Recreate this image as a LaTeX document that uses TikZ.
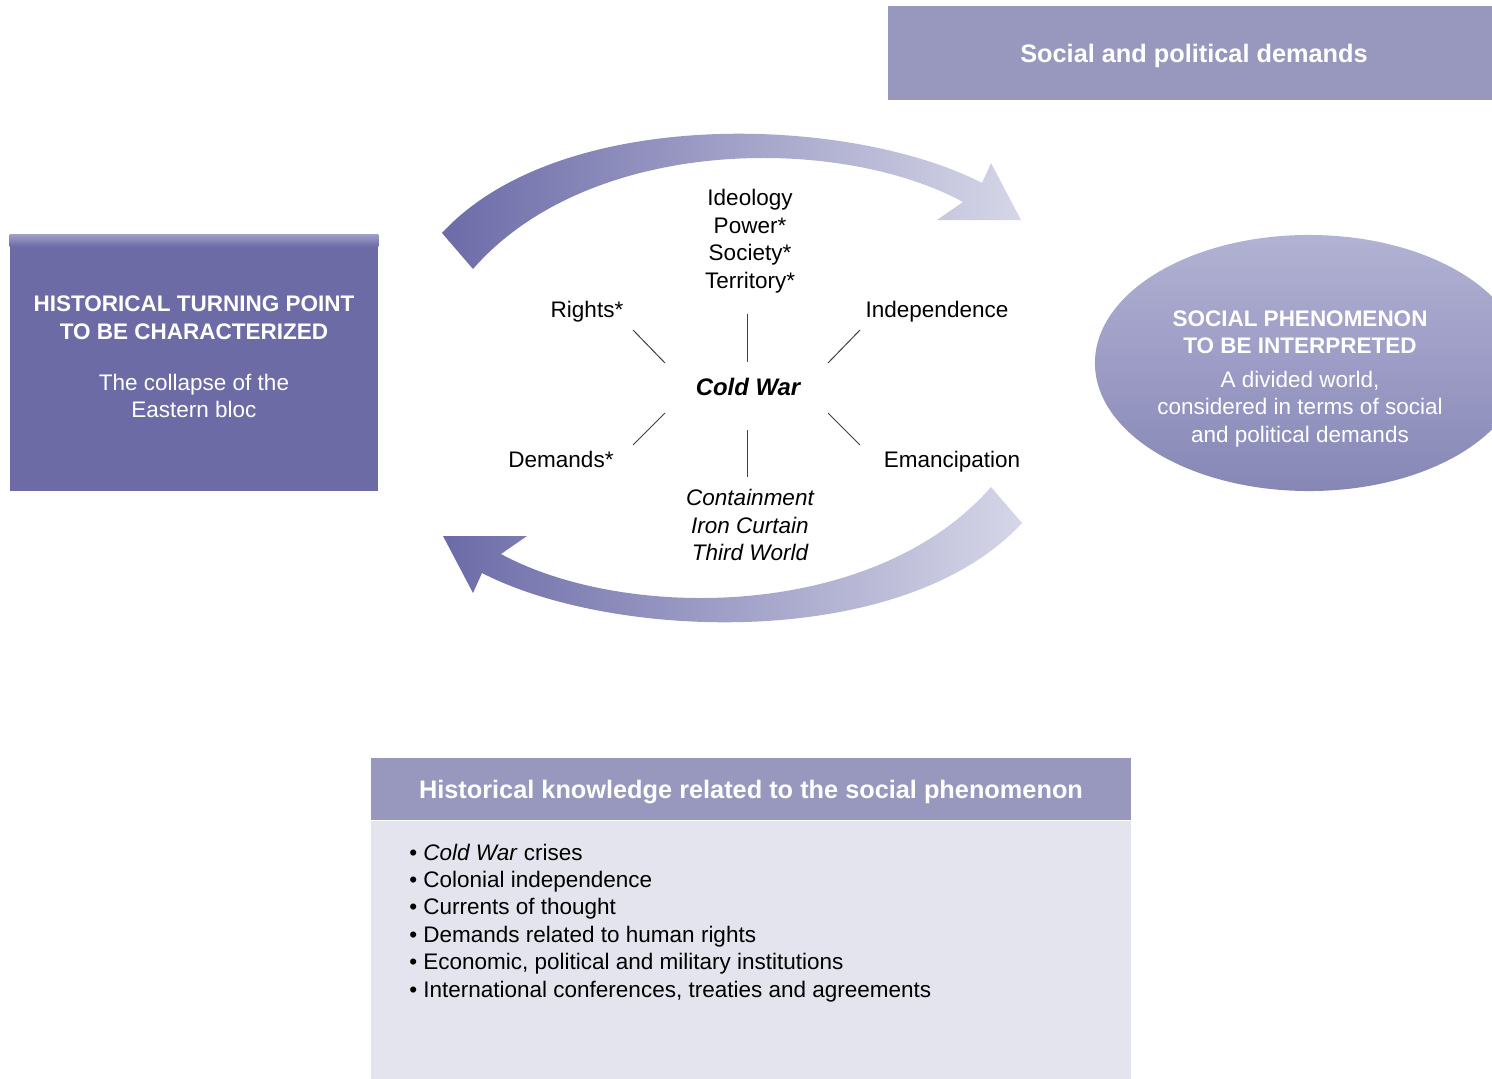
\documentclass[tikz,border=0pt]{standalone}
\usepackage{fontspec}
\setmainfont{Liberation Sans}
\usepackage{tikz}
\usetikzlibrary{shapes.geometric, calc, positioning}
\usepackage{xcolor}

\definecolor{boxdark}{HTML}{6C6BA5}
\definecolor{boxbevel}{HTML}{9E9DC6}
\definecolor{boxmid}{HTML}{9898BF}
\definecolor{ovaltop}{HTML}{B2B2D3}
\definecolor{ovalmid}{HTML}{9C9CC6}
\definecolor{ovalbot}{HTML}{8787B6}
\definecolor{bodyfill}{HTML}{E4E4EE}
\definecolor{arrowdark}{HTML}{6C6BA8}
\definecolor{arrowlight}{HTML}{D6D6E8}

\newcommand{\txtsize}{\fontsize{16}{19.5}\selectfont}
\newcommand{\headsize}{\fontsize{18}{21}\selectfont}

\begin{document}
\begin{tikzpicture}[x=0.025cm, y=-0.025cm,
  turnbox/.style={fill=boxdark, minimum width=9.2cm, minimum height=6.4cm, inner sep=0},
  headband/.style={fill=boxmid, text=white, font=\headsize\bfseries, inner sep=0, text depth=0pt},
  phenomoval/.style={ellipse, top color=ovaltop, bottom color=ovalbot, middle color=ovalmid,
    minimum width=10.7cm, minimum height=6.4cm, inner sep=0},
  whitetext/.style={text=white, font=\txtsize, align=center, inner sep=0},
  concept/.style={font=\txtsize, align=center, inner sep=0},
  spoke/.style={draw=black!75, line width=0.7pt},
  bigarrow/.style={left color=arrowdark, right color=arrowlight}]

  % page
  \useasboundingbox (0,0) rectangle (1492,1078);
  \fill[white] (0,0) rectangle (1492,1078);

  % historical turning point
  \node[turnbox] (turn) at (194,363) {};
  \shade[top color=boxbevel, bottom color=boxdark]
    (turn.north west) rectangle ($(turn.north east)+(0,12)$);
  \node[whitetext] (turntext) at (194,357)
  {\textbf{HISTORICAL TURNING POINT}\\\textbf{TO BE CHARACTERIZED}\\[16.7pt]
   The collapse of the\\Eastern bloc};

  % social and political demands
  \node[headband, minimum width=15.3cm, minimum height=2.35cm] (spbox) at (1194,53)
  {Social and political demands};

  % social phenomenon
  \node[phenomoval] (phenom) at (1309,363) {};
  \node[whitetext] (phenomtext) at (1300,378.6)
  {\textbf{SOCIAL PHENOMENON}\\\textbf{TO BE INTERPRETED}\\[4.6pt]
   A divided world,\\considered in terms of social\\and political demands};

  % curved arrows
  \shade[bigarrow] (442,233) .. controls (560,105) and (850,115) .. (982,183)
    -- (991,163) -- (1021,220) -- (937,220) -- (963,202)
    .. controls (840,135) and (590,135) .. (473,269) -- cycle;
  \shade[bigarrow] (1022,523) .. controls (904,651) and (614,641) .. (482,573)
    -- (473,593) -- (443,536) -- (527,536) -- (501,554)
    .. controls (624,621) and (874,621) .. (991,487) -- cycle;

  % concept web
  \node[concept, font=\fontsize{17}{20}\selectfont\bfseries\itshape, anchor=base] (cw) at (748,395) {Cold War};
  \node[concept] (ideo) at (750,241.2) {Ideology\\Power*\\Society*\\Territory*};
  \node[concept, anchor=base] (rights) at (587,317) {Rights*};
  \node[concept, anchor=base] (indep) at (937,317) {Independence};
  \node[concept, anchor=base] (claims) at (561,467) {Demands*};
  \node[concept, anchor=base] (emanc) at (952,467) {Emancipation};
  \node[concept, font=\txtsize\itshape] (contain) at (750,525.3)
  {Containment\\Iron Curtain\\Third World};

  \foreach \a/\b in {{(747,314)}/{(747,362)}, {(633,330)}/{(665,363)}, {(860,330)}/{(828,363)},
                     {(665,413)}/{(633,445)}, {(828,413)}/{(860,445)}, {(747,430)}/{(747,477)}}
    \draw[spoke] \a -- \b;

  % historical knowledge
  \node[headband, minimum width=19cm, minimum height=1.55cm] (knowhead) at (751,789)
  {Historical knowledge related to the social phenomenon};
  \node[fill=bodyfill, minimum width=19cm, minimum height=6.5cm, inner sep=0, anchor=north]
    (knowbody) at (knowhead.south) {};
  \node[concept, align=left, anchor=north west] (topics) at (409,843.5)
  {\textbullet\ \textit{Cold War} crises\\
   \textbullet\ Colonial independence\\
   \textbullet\ Currents of thought\\
   \textbullet\ Demands related to human rights\\
   \textbullet\ Economic, political and military institutions\\
   \textbullet\ International conferences, treaties and agreements};
\end{tikzpicture}
\end{document}
